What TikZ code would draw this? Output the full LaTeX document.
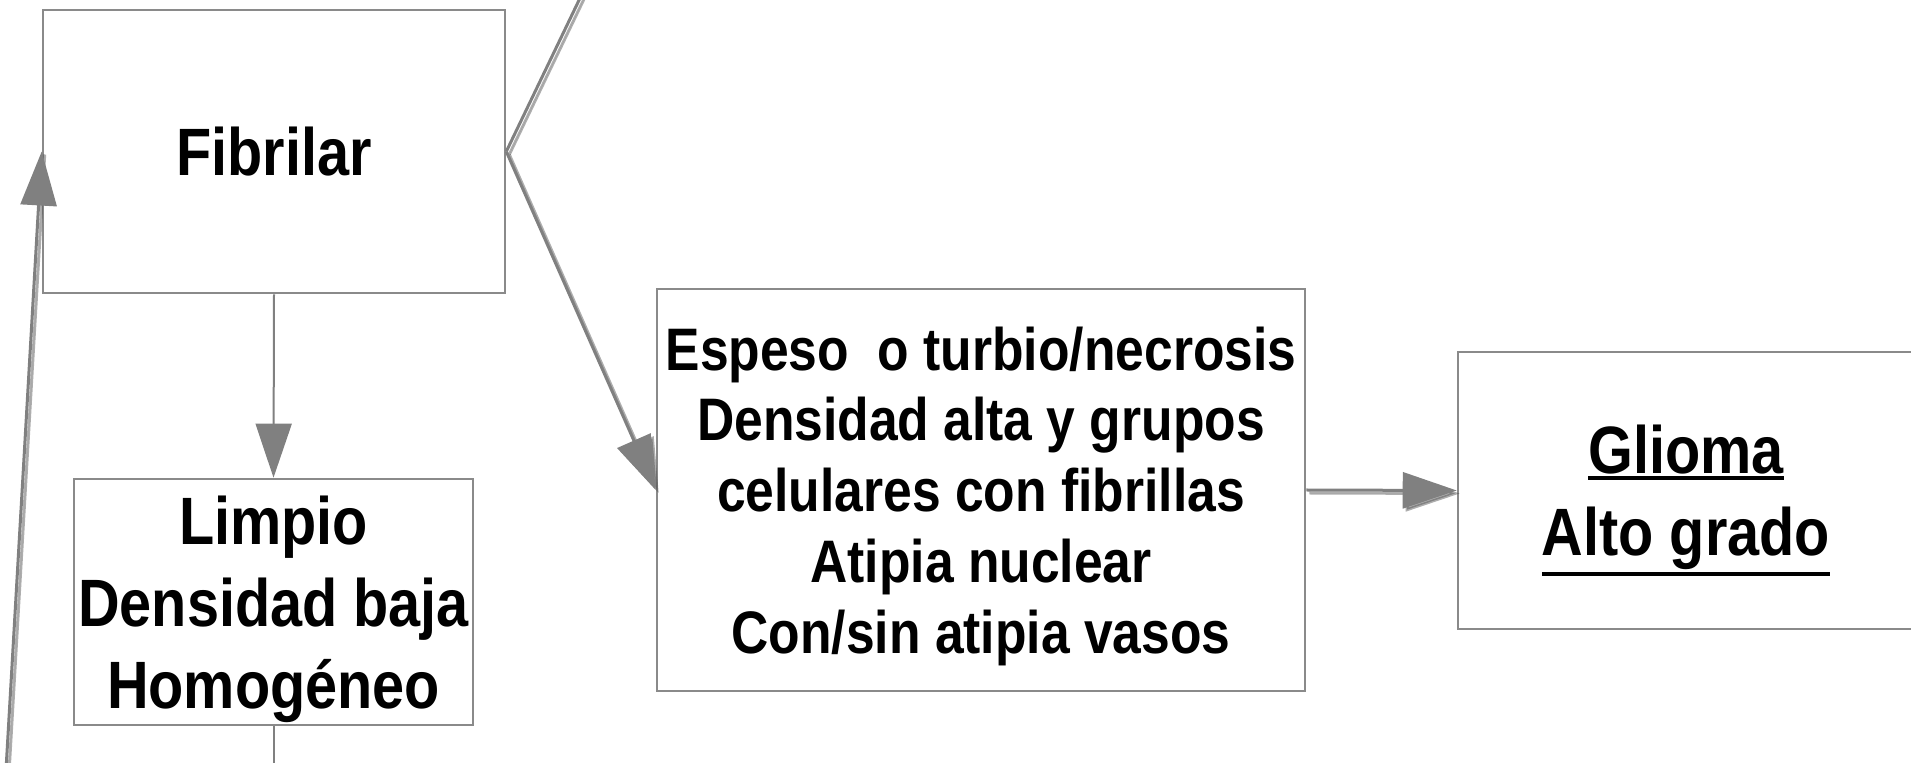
\documentclass[tikz,border=0pt]{standalone}
\usepackage{fontspec}
\setmainfont{Liberation Sans}[FakeStretch=0.86]
\usetikzlibrary{arrows.meta}
\definecolor{linegray}{HTML}{808080}
\definecolor{boxgray}{HTML}{8A8A8A}
\newcommand{\heavyul}[1]{\setbox0\hbox{#1}\leavevmode
    \rlap{\vrule width\wd0 height -\dimexpr\dp0+1pt\relax depth \dimexpr\dp0+2.8pt\relax}\box0}

\begin{document}
\begin{tikzpicture}[x=0.5pt, y=-0.5pt,
    box/.style={draw=boxgray, line width=1.3pt, fill=white, align=center, inner sep=0pt, text depth=0pt},
    bigtext/.style={font=\fontsize{33.5}{41}\selectfont\bfseries},
    midtext/.style={font=\fontsize{30}{35.4}\selectfont\bfseries},
    link/.style={draw=linegray, line width=1.5pt},
    thinlink/.style={draw=linegray, line width=1pt},
    tip/.style={-{Triangle[length=27pt, width=18pt]}},
    shade/.style={draw=black!70, fill=black!70, opacity=0.45, line width=1.5pt,
        transform canvas={shift={(1.5pt,-1.5pt)}}}]
    \useasboundingbox (0,0) rectangle (1911,763);

    % Boxes
    \node[box, bigtext, minimum width=231pt, minimum height=141.5pt] (fibrilar) at (274,151.5) {Fibrilar};
    \node[box, bigtext, minimum width=199.5pt, minimum height=123pt] (limpio) at (273.5,602)
        {Limpio\\Densidad baja\\Homogéneo};
    \node[box, midtext, minimum width=324pt, minimum height=201pt] (espeso) at (981,490)
        {Espeso\ \ o turbio/necrosis\\Densidad alta y grupos\\celulares con fibrillas\\Atipia nuclear\\Con/sin atipia vasos};
    \node[box, bigtext, minimum width=228pt, minimum height=138.5pt] (glioma) at (1686,490.5)
        {\heavyul{Glioma}\\\heavyul{Alto grado}};

    % Free ends
    \coordinate (leftfoot) at (6,770);
    \coordinate (topend) at (582,-6);
    \coordinate (limpiofoot) at (273.5,770);

    % Shadows
    \draw[shade] (leftfoot) -- (fibrilar.west);
    \draw[shade] (fibrilar.east) -- (topend);
    \draw[shade, tip] (fibrilar.east) -- (espeso.west);
    \draw[shade, tip] (espeso.east) -- (glioma.west);

    % Connectors
    \draw[thinlink, tip] (fibrilar.south) -- (limpio.north);
    \draw[thinlink] (limpio.south) -- (limpiofoot);
    \draw[link, tip, fill=linegray] (leftfoot) -- (fibrilar.west);
    \draw[link] (fibrilar.east) -- (topend);
    \draw[link, tip, fill=linegray] (fibrilar.east) -- (espeso.west);
    \draw[link, tip, fill=linegray] (espeso.east) -- (glioma.west);
\end{tikzpicture}
\end{document}
